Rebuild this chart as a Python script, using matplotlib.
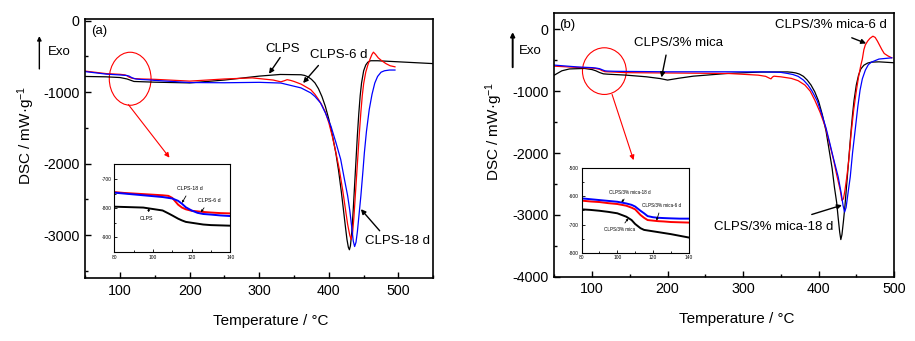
import matplotlib
matplotlib.use("Agg")
import matplotlib.pyplot as plt
from matplotlib.patches import Ellipse, FancyArrowPatch
from matplotlib.ticker import MultipleLocator

plt.rcParams['font.family'] = ['Liberation Sans', 'DejaVu Sans']
plt.rcParams['mathtext.fontset'] = 'custom'
plt.rcParams['mathtext.rm'] = 'Liberation Sans'
plt.rcParams['mathtext.it'] = 'Liberation Sans'
plt.rcParams['axes.unicode_minus'] = False

# ---- (a) CLPS samples ----
t_clps = [50, 80, 100, 110, 120, 150, 200, 250, 300, 330, 360, 365, 370, 375, 380, 385,
          390, 395, 400, 405, 410, 414, 418, 421, 424, 426, 428, 429.5, 431, 433, 435,
          437, 439, 441, 443, 445, 447, 450, 453, 456, 460, 470, 500, 550]
dsc_clps = [-780, -785, -795, -815, -850, -860, -870, -830, -775, -752, -756, -765, -785,
            -820, -870, -950, -1060, -1200, -1380, -1600, -1850, -2100, -2400, -2650,
            -2900, -3060, -3170, -3205, -3150, -2950, -2650, -2300, -1950, -1600, -1300,
            -1050, -870, -700, -620, -580, -560, -560, -575, -600]

t_clps6 = [50, 80, 100, 107, 110, 113, 117, 120, 130, 150, 200, 250, 290, 320, 331, 336,
           340, 345, 350, 360, 374, 380, 385, 390, 395, 400, 405, 410, 415, 420, 424, 427,
           430, 432, 434, 436, 438, 440, 442, 444, 446, 448, 450, 453, 456, 459, 462, 464,
           467, 471, 476, 482, 488, 495]
dsc_clps6 = [-705, -740, -750, -758, -770, -790, -804, -809, -815, -820, -845, -815, -800,
             -830, -855, -840, -825, -835, -850, -887, -965, -1030, -1100, -1180, -1280,
             -1430, -1620, -1840, -2080, -2380, -2650, -2850, -3000, -3060, -2980, -2750,
             -2450, -2150, -1850, -1550, -1280, -1050, -880, -720, -620, -540, -470, -440,
             -470, -520, -560, -600, -630, -645]

t_clps18 = [50, 80, 100, 110, 113, 117, 120, 123, 130, 140, 150, 200, 250, 300, 331, 360,
            374, 380, 388, 395, 403, 410, 417, 422, 427, 430, 433, 435, 437, 439, 441, 443,
            446, 449, 451, 454, 458, 462, 466, 470, 475, 480, 487, 495]
dsc_clps18 = [-712, -747, -759, -767, -775, -797, -808, -816, -822, -827, -835, -865, -868,
              -862, -872, -940, -1010, -1060, -1150, -1290, -1476, -1700, -1940, -2200,
              -2450, -2650, -2900, -3080, -3160, -3100, -2950, -2750, -2450, -2100, -1850,
              -1550, -1244, -1030, -872, -780, -720, -700, -690, -690]

# zoomed glass-transition region, 80-140 °C
t_zoom = [80, 85, 90, 95, 100, 105, 108, 110, 113, 115, 117, 120, 123, 126, 130, 135, 140]
zoom_clps = [-795, -796, -797, -798, -803, -808, -818, -825, -836, -842, -847, -850, -853,
             -856, -858, -859, -860]
zoom_clps6 = [-745, -748, -750, -752, -754, -756, -758, -765, -788, -798, -804, -809, -811,
              -813, -815, -817, -818]
zoom_clps18 = [-747, -750, -753, -756, -759, -762, -765, -767, -775, -785, -797, -808, -816,
               -820, -822, -825, -827]

# ---- (b) CLPS/3% mica samples ----
t_mica = [50, 60, 70, 90, 100, 105, 110, 115, 120, 145, 172, 190, 200, 215, 234, 279, 323,
          359, 365, 370, 375, 380, 385, 390, 395, 400, 405, 410, 414, 418, 421, 424, 426,
          428, 429.5, 431, 433, 435, 437, 439, 441, 443, 445, 447, 450, 453, 456, 460, 465,
          470, 480, 500]
dsc_mica = [-740, -670, -640, -632, -650, -670, -698, -719, -724, -740, -767, -795, -820,
            -790, -757, -713, -690, -688, -695, -705, -725, -760, -820, -900, -1010, -1160,
            -1380, -1650, -1950, -2250, -2550, -2800, -3050, -3280, -3400, -3320, -3100,
            -2850, -2550, -2250, -1950, -1650, -1380, -1150, -900, -740, -640, -580, -545,
            -530, -525, -540]

t_mica6 = [50, 80, 100, 105, 110, 113, 117, 120, 130, 145, 200, 280, 320, 330, 335, 337,
           339, 341, 345, 350, 364, 373, 382, 389, 395, 402, 409, 414, 420, 424, 428.7, 431,
           433, 435, 437.5, 440, 443, 446.5, 450, 453, 456, 458, 460, 462, 465, 468, 472,
           475, 478, 481, 484, 487, 492, 497]
dsc_mica6 = [-595, -615, -627, -633, -646, -666, -684, -686, -691, -700, -705, -713, -740,
             -760, -790, -800, -770, -757, -762, -767, -793, -830, -901, -1000, -1144,
             -1340, -1576, -1820, -2115, -2350, -2600, -2768, -2740, -2600, -2380, -2115,
             -1700, -1306, -1000, -767, -580, -480, -330, -250, -190, -146, -110, -130,
             -190, -260, -330, -390, -430, -460]

t_mica18 = [50, 80, 100, 105, 110, 113, 117, 120, 130, 145, 200, 279, 323, 338, 350, 359,
            366, 373, 380, 386, 391, 398, 404, 410, 415, 420, 426, 430, 432.5, 434.5, 436.5,
            439, 442, 445, 449, 452, 455, 458, 462, 466, 470, 480, 497]
dsc_mica18 = [-578, -607, -619, -625, -636, -651, -670, -674, -678, -680, -686, -686, -688,
              -690, -695, -713, -730, -760, -820, -900, -990, -1150, -1360, -1600, -1845,
              -2100, -2385, -2650, -2850, -2955, -2880, -2650, -2385, -2000, -1576, -1250,
              -982, -800, -659, -570, -530, -480, -460]

zoom_mica = [-646, -648, -651, -655, -660, -672, -684, -698, -713, -719, -721, -724, -727,
             -730, -734, -740, -746]
zoom_mica6 = [-615, -618, -620, -624, -627, -633, -640, -646, -666, -676, -684, -686, -688,
              -689, -691, -692, -693]
zoom_mica18 = [-607, -610, -613, -616, -619, -625, -630, -636, -651, -660, -670, -674, -676,
               -677, -678, -679, -679]


def style_main(ax):
    ax.tick_params(which='both', direction='in', top=False, right=False, labelsize=10.3)
    ax.tick_params(which='major', length=4, width=1, pad=4)
    ax.tick_params(which='minor', length=2.5, width=1)
    ax.xaxis.set_major_locator(MultipleLocator(100))
    ax.xaxis.set_minor_locator(MultipleLocator(50))
    ax.yaxis.set_major_locator(MultipleLocator(1000))
    ax.yaxis.set_minor_locator(MultipleLocator(500))
    for sp in ax.spines.values():
        sp.set_linewidth(1.2)
    ax.set_xlabel('Temperature / °C', fontsize=11)
    ax.set_ylabel('DSC / mW·g$^{-1}$', fontsize=11)


def style_inset(ax, ymin, ymax, ystep):
    ax.set_xlim(80, 140)
    ax.set_ylim(ymin, ymax)
    ax.xaxis.set_major_locator(MultipleLocator(20))
    ax.xaxis.set_minor_locator(MultipleLocator(10))
    ax.yaxis.set_major_locator(MultipleLocator(ystep))
    ax.yaxis.set_minor_locator(MultipleLocator(ystep / 2))
    ax.tick_params(which='both', direction='in', top=False, right=False, labelsize=3.5,
                   pad=2)
    ax.tick_params(which='major', length=2, width=0.6)
    ax.tick_params(which='minor', length=1.2, width=0.6)
    for sp in ax.spines.values():
        sp.set_linewidth(0.8)


def pointer(ax, xy, xytext, color='k', lw=1.0, ms=7):
    ax.annotate('', xy=xy, xytext=xytext,
                arrowprops=dict(arrowstyle='-|>', color=color, lw=lw, mutation_scale=ms,
                                shrinkA=0, shrinkB=0))


def small_label(ax, text, xy, xytext, fs):
    ax.annotate(text, xy=xy, xytext=xytext, fontsize=fs, ha='center', va='center',
                arrowprops=dict(arrowstyle='-|>', color='k', lw=0.6, mutation_scale=3,
                                shrinkA=1.5, shrinkB=0))


fig = plt.figure(figsize=(9.15, 3.41), dpi=100)

# ---------------- panel (a) ----------------
ax1 = fig.add_axes([0.0932, 0.1848, 0.3803, 0.7586])
ax1.plot(t_clps, dsc_clps, color='k', lw=0.9)
ax1.plot(t_clps6, dsc_clps6, color='red', lw=0.9)
ax1.plot(t_clps18, dsc_clps18, color='blue', lw=0.9)
ax1.set_xlim(50, 550)
ax1.set_ylim(-3600, 20)
style_main(ax1)
ax1.xaxis.set_label_coords(0.532, -0.14)
ax1.yaxis.set_label_coords(-0.139, 0.55)
ax1.text(70, -150, '(a)', fontsize=9.5, ha='center', va='center')

pointer(ax1, (314, -742), (330, -515))
ax1.text(334, -394, 'CLPS', fontsize=9.5, ha='center', va='center')
pointer(ax1, (363, -872), (385, -626))
ax1.text(414, -478, 'CLPS-6 d', fontsize=9.5, ha='center', va='center')
pointer(ax1, (446, -2637), (473, -2939))
ax1.text(499, -3078, 'CLPS-18 d', fontsize=9.5, ha='center', va='center')

ax1.add_patch(Ellipse((114.5, -812), 60, 742, fill=False, edgecolor='red', lw=0.8))
pointer(ax1, (171, -1916), (112, -1174), color='red', lw=0.8)

in1 = fig.add_axes([0.1249, 0.261, 0.1268, 0.2572])
in1.plot(t_zoom, zoom_clps, color='k', lw=1.4)
in1.plot(t_zoom, zoom_clps6, color='red', lw=1.4)
in1.plot(t_zoom, zoom_clps18, color='blue', lw=1.4)
style_inset(in1, -950, -650, 100)
small_label(in1, 'CLPS-18 d', (115, -782), (119.2, -734), 3.8)
small_label(in1, 'CLPS-6 d', (124.8, -814), (129, -775), 3.8)
small_label(in1, 'CLPS', (98, -800), (96.9, -837), 3.8)

fig.text(0.0528, 0.8466, 'Exo', fontsize=9.5, ha='left', va='center')
fig.add_artist(FancyArrowPatch((0.043, 0.7897), (0.043, 0.9023),
                               transform=fig.transFigure, arrowstyle='-|>',
                               mutation_scale=6, lw=1.0, color='k'))

# ---------------- panel (b) ----------------
ax2 = fig.add_axes([0.6058, 0.1886, 0.3713, 0.7742])
ax2.plot(t_mica, dsc_mica, color='k', lw=0.9)
ax2.plot(t_mica6, dsc_mica6, color='red', lw=0.9)
ax2.plot(t_mica18, dsc_mica18, color='blue', lw=0.9)
ax2.set_xlim(50, 500)
ax2.set_ylim(-4000, 270)
style_main(ax2)
ax2.xaxis.set_label_coords(0.537, -0.135)
ax2.yaxis.set_label_coords(-0.145, 0.55)
ax2.text(67, 70, '(b)', fontsize=9.5, ha='center', va='center')

pointer(ax2, (192, -777), (198, -416))
ax2.text(215, -227, 'CLPS/3% mica', fontsize=9.5, ha='center', va='center')
pointer(ax2, (463, -227), (444, -136))
ax2.text(417, 70, 'CLPS/3% mica-6 d', fontsize=9.5, ha='center', va='center')
pointer(ax2, (431, -2843), (391, -2994))
ax2.text(340, -3194, 'CLPS/3% mica-18 d', fontsize=9.5, ha='center', va='center')

ax2.add_patch(Ellipse((116.3, -675), 58, 755, fill=False, edgecolor='red', lw=0.8))
pointer(ax2, (155, -2115), (126.5, -1052), color='red', lw=0.8)

in2 = fig.add_axes([0.6357, 0.259, 0.1169, 0.2475])
in2.plot(t_zoom, zoom_mica, color='k', lw=1.4)
in2.plot(t_zoom, zoom_mica6, color='red', lw=1.4)
in2.plot(t_zoom, zoom_mica18, color='blue', lw=1.4)
style_inset(in2, -800, -500, 100)
small_label(in2, 'CLPS/3% mica-18 d', (102.3, -621), (107.1, -585), 3.3)
small_label(in2, 'CLPS/3% mica-6 d', (122, -686), (124.6, -633), 3.3)
small_label(in2, 'CLPS/3% mica', (106.2, -678), (101.3, -719), 3.3)

fig.text(0.5676, 0.8504, 'Exo', fontsize=9.5, ha='left', va='center')
fig.add_artist(FancyArrowPatch((0.5603, 0.7947), (0.5603, 0.914),
                               transform=fig.transFigure, arrowstyle='-|>',
                               mutation_scale=6, lw=1.4, color='k'))

fig.savefig('out.png', dpi=100)
